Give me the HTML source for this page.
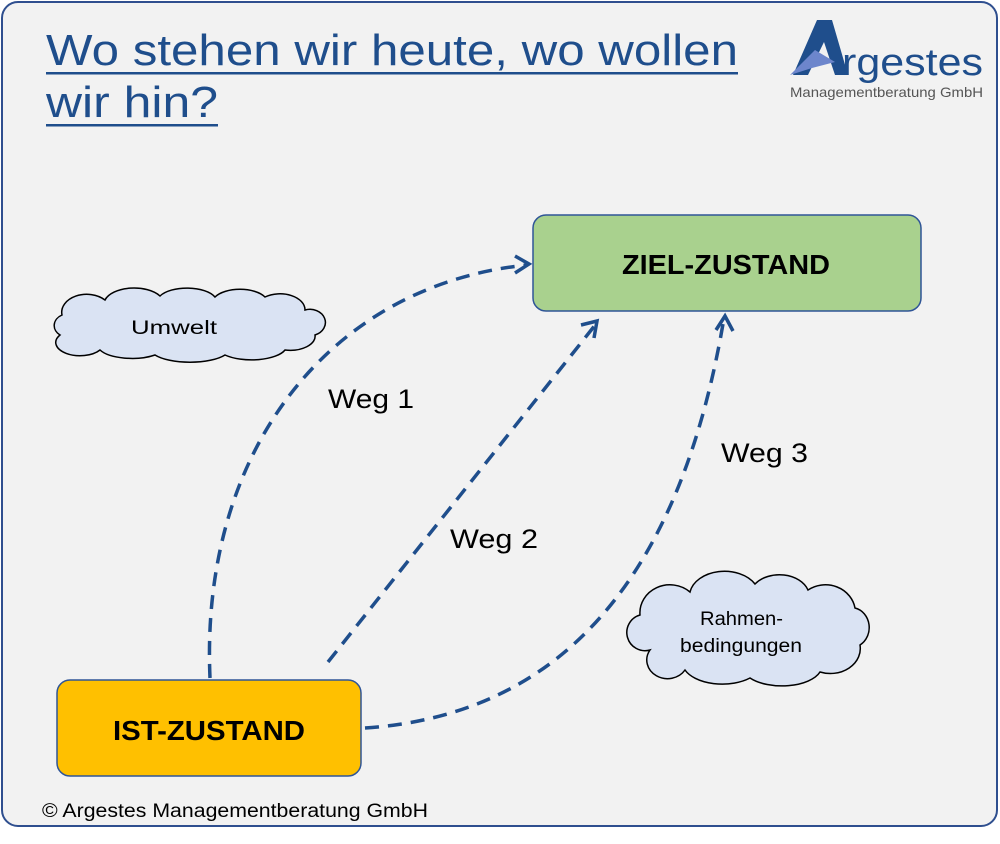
<!DOCTYPE html>
<html><head><meta charset="utf-8"><style>
body{margin:0;width:1000px;height:844px;background:#fff;overflow:hidden;font-family:"Liberation Sans",sans-serif}
svg{position:absolute;left:0;top:0}
</style></head><body>
<svg width="1000" height="844" viewBox="0 0 1000 844">
<rect x="2" y="2" width="995" height="824" rx="16" fill="#f2f2f2" stroke="#2f4f8f" stroke-width="2"/>
<g font-family="Liberation Sans, sans-serif" fill="#1f4e8c" font-size="44">
<text x="46" y="65" textLength="692" lengthAdjust="spacingAndGlyphs">Wo stehen wir heute, wo wollen</text>
<text x="46" y="117" textLength="172" lengthAdjust="spacingAndGlyphs">wir hin?</text>
</g>
<rect x="46" y="72" width="692" height="2.5" fill="#1f4e8c"/>
<rect x="46" y="124" width="172" height="2.5" fill="#1f4e8c"/>
<!-- logo -->
<polygon points="793,75 817,20 832,20 848,75 835,75 824,42 808,75" fill="#1f4e8c"/>
<polygon points="790,75 815,50 835,62 812,68" fill="#6d86cc"/>
<text x="842" y="75" font-family="Liberation Sans, sans-serif" font-size="38" fill="#1f4e8c" textLength="141" lengthAdjust="spacingAndGlyphs">rgestes</text>
<text x="790" y="97" font-family="Liberation Sans, sans-serif" font-size="14" fill="#555" textLength="193" lengthAdjust="spacingAndGlyphs">Managementberatung GmbH</text>
<!-- boxes -->
<rect x="533" y="215" width="388" height="96" rx="13" fill="#a9d18e" stroke="#2f5597" stroke-width="1.5"/>
<text x="622" y="274" font-weight="bold" font-size="28" fill="#000" textLength="208" lengthAdjust="spacingAndGlyphs">ZIEL-ZUSTAND</text>
<rect x="57" y="680" width="304" height="96" rx="13" fill="#ffc000" stroke="#2f5597" stroke-width="1.5"/>
<text x="113" y="740" font-weight="bold" font-size="28" fill="#000" textLength="192" lengthAdjust="spacingAndGlyphs">IST-ZUSTAND</text>
<!-- clouds -->
<path d="M60,335 A15,12 0 0 1 62,315 A25,18 0 0 1 105,300 A30,16 0 0 1 160,296 A30,14 0 0 1 215,297 A28,14 0 0 1 265,297 A25,16 0 0 1 305,310 A14,12 0 0 1 315,335 A25,14 0 0 1 285,350 A35,14 0 0 1 225,355 A40,14 0 0 1 155,355 A35,14 0 0 1 100,350 A22,12 0 0 1 60,335 Z" fill="#dae3f3" stroke="#000" stroke-width="1.5"/>
<text x="131" y="334" font-size="19" textLength="86" lengthAdjust="spacingAndGlyphs">Umwelt</text>
<path d="M650,650 A18,18 0 0 1 640,615 A30,28 0 0 1 690,592 A35,25 0 0 1 755,584 A30,22 0 0 1 808,590 A30,28 0 0 1 855,608 A18,20 0 0 1 860,645 A30,25 0 0 1 820,672 A40,20 0 0 1 750,678 A40,22 0 0 1 685,670 A20,18 0 0 1 650,650 Z" fill="#dae3f3" stroke="#000" stroke-width="1.5"/>
<text x="700" y="625" font-size="19" textLength="83" lengthAdjust="spacingAndGlyphs">Rahmen-</text>
<text x="680" y="652" font-size="19" textLength="122" lengthAdjust="spacingAndGlyphs">bedingungen</text>
<!-- arrows -->
<g fill="none" stroke="#1f4e8c" stroke-width="3.5" stroke-dasharray="14,9">
<path d="M210,678 C200,450 330,285 527,265"/>
<path d="M328,662 L596,324"/>
<path d="M365,728 C560,715 680,580 724,318"/>
</g>
<g fill="none" stroke="#1f4e8c" stroke-width="3.5">
<polyline points="515,256 529,264 515,273"/>
<polyline points="581,325 597,321 594,338"/>
<polyline points="716,330 725,316 733,331"/>
</g>
<g font-size="27" fill="#000">
<text x="328" y="408" textLength="86" lengthAdjust="spacingAndGlyphs">Weg 1</text>
<text x="450" y="548" textLength="88" lengthAdjust="spacingAndGlyphs">Weg 2</text>
<text x="721" y="462" textLength="87" lengthAdjust="spacingAndGlyphs">Weg 3</text>
</g>
<text x="42" y="817" font-size="19" fill="#000" textLength="386" lengthAdjust="spacingAndGlyphs">© Argestes Managementberatung GmbH</text>
</svg>
</body></html>
